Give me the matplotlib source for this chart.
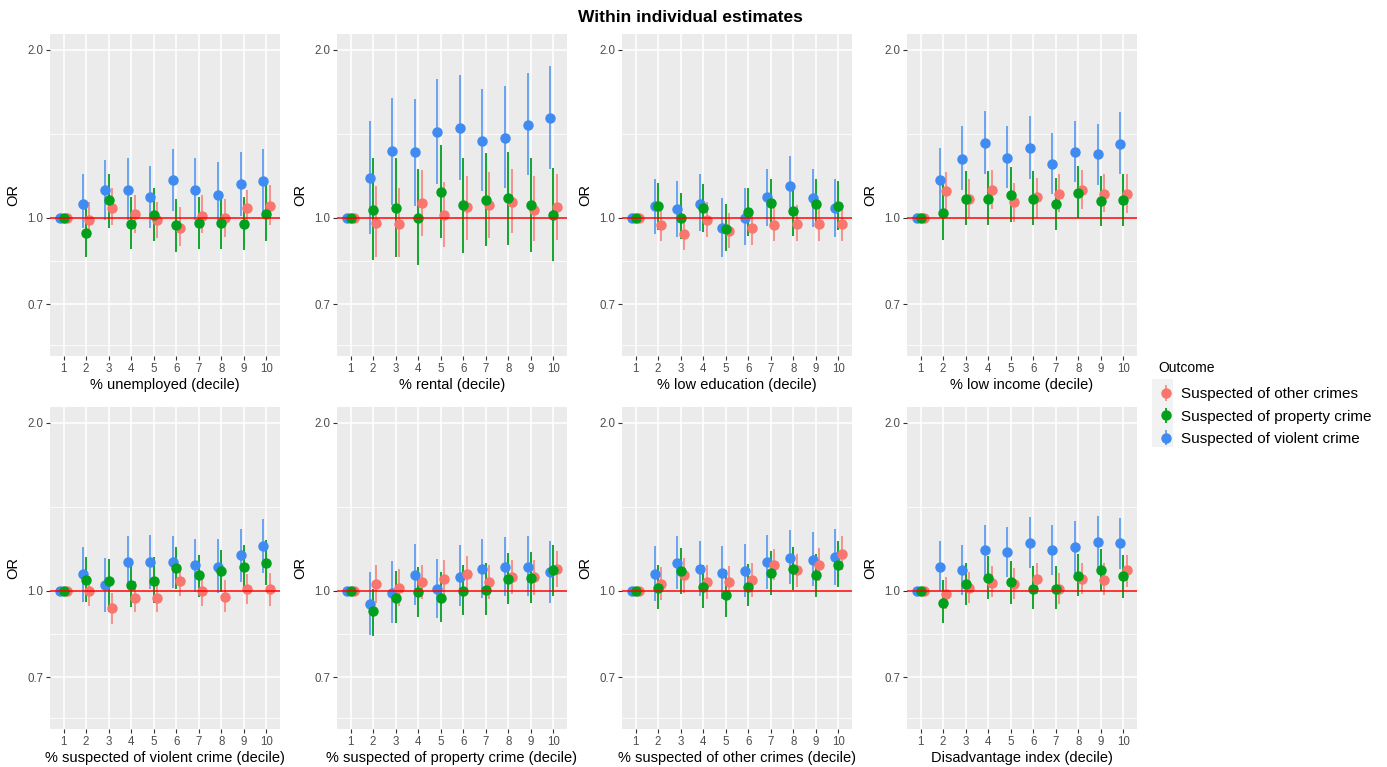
import numpy as np
import matplotlib
matplotlib.use("Agg")
import matplotlib.pyplot as plt
from matplotlib.patches import Rectangle

plt.rcParams['font.family'] = ['Liberation Sans', 'DejaVu Sans']

deciles = [1, 2, 3, 4, 5, 6, 7, 8, 9, 10]
panel_labels = ['% unemployed (decile)', '% rental (decile)', '% low education (decile)',
                '% low income (decile)', '% suspected of violent crime (decile)',
                '% suspected of property crime (decile)', '% suspected of other crimes (decile)',
                'Disadvantage index (decile)']
outcomes = ['Suspected of other crimes', 'Suspected of property crime', 'Suspected of violent crime']

# odds ratios per panel (rows) and decile (columns)
violent_or = [
    [1.0, 1.06, 1.12, 1.12, 1.09, 1.17, 1.12, 1.10, 1.15, 1.165],
    [1.0, 1.18, 1.316, 1.31, 1.425, 1.45, 1.375, 1.39, 1.47, 1.51],
    [1.0, 1.05, 1.038, 1.06, 0.96, 1.0, 1.09, 1.14, 1.086, 1.04],
    [1.0, 1.17, 1.275, 1.362, 1.28, 1.334, 1.25, 1.31, 1.30, 1.358],
    [1.0, 1.071, 1.024, 1.127, 1.127, 1.127, 1.112, 1.104, 1.158, 1.204],
    [1.0, 0.949, 0.993, 1.067, 1.01, 1.059, 1.096, 1.104, 1.104, 1.082],
    [1.0, 1.074, 1.12, 1.096, 1.077, 1.086, 1.127, 1.146, 1.135, 1.151],
    [1.0, 1.104, 1.092, 1.183, 1.175, 1.221, 1.183, 1.199, 1.224, 1.219],
]
violent_lo = [
    [1.0, 0.96, 0.99, 0.99, 0.96, 1.03, 0.99, 0.975, 1.01, 1.02],
    [1.0, 0.936, 1.056, 1.05, 1.15, 1.17, 1.116, 1.13, 1.195, 1.225],
    [1.0, 0.936, 0.926, 0.947, 0.852, 0.894, 0.969, 1.014, 0.964, 0.925],
    [1.0, 1.035, 1.12, 1.2, 1.13, 1.175, 1.105, 1.158, 1.144, 1.2],
    [1.0, 0.956, 0.917, 1.01, 1.01, 1.012, 0.996, 0.993, 1.038, 1.079],
    [1.0, 0.835, 0.876, 0.945, 0.895, 0.94, 0.973, 0.98, 0.98, 0.953],
    [1.0, 0.958, 1.007, 0.98, 0.966, 0.975, 1.01, 1.031, 1.021, 1.024],
    [1.0, 1.0, 0.985, 1.062, 1.059, 1.101, 1.067, 1.079, 1.1, 1.096],
]
violent_hi = [
    [1.0, 1.20, 1.27, 1.28, 1.24, 1.33, 1.28, 1.26, 1.31, 1.33],
    [1.0, 1.49, 1.64, 1.63, 1.775, 1.80, 1.70, 1.72, 1.82, 1.87],
    [1.0, 1.175, 1.166, 1.20, 1.086, 1.13, 1.225, 1.29, 1.225, 1.175],
    [1.0, 1.334, 1.463, 1.556, 1.463, 1.52, 1.42, 1.49, 1.475, 1.548],
    [1.0, 1.20, 1.146, 1.255, 1.262, 1.255, 1.238, 1.238, 1.29, 1.348],
    [1.0, 1.082, 1.132, 1.212, 1.142, 1.207, 1.238, 1.249, 1.255, 1.227],
    [1.0, 1.204, 1.255, 1.227, 1.204, 1.216, 1.262, 1.284, 1.276, 1.293],
    [1.0, 1.227, 1.21, 1.315, 1.302, 1.357, 1.315, 1.333, 1.36, 1.353],
]
property_or = [
    [1.0, 0.94, 1.075, 0.977, 1.014, 0.97, 0.98, 0.978, 0.975, 1.017],
    [1.0, 1.032, 1.04, 1.0, 1.113, 1.053, 1.075, 1.086, 1.053, 1.014],
    [1.0, 1.05, 1.0, 1.04, 0.957, 1.024, 1.064, 1.028, 1.061, 1.052],
    [1.0, 1.022, 1.083, 1.083, 1.098, 1.083, 1.06, 1.108, 1.071, 1.075],
    [1.0, 1.048, 1.042, 1.024, 1.042, 1.10, 1.067, 1.086, 1.104, 1.122],
    [1.0, 0.922, 0.973, 0.996, 0.973, 1.0, 1.006, 1.052, 1.055, 1.089],
    [1.0, 1.014, 1.086, 1.017, 0.982, 1.017, 1.077, 1.096, 1.067, 1.115],
    [1.0, 0.952, 1.028, 1.055, 1.038, 1.01, 1.01, 1.064, 1.092, 1.062],
]
property_lo = [
    [1.0, 0.85, 0.96, 0.88, 0.91, 0.87, 0.88, 0.88, 0.875, 0.91],
    [1.0, 0.84, 0.85, 0.825, 0.92, 0.866, 0.89, 0.896, 0.87, 0.837],
    [1.0, 0.95, 0.917, 0.944, 0.872, 0.93, 0.965, 0.93, 0.964, 0.953],
    [1.0, 0.915, 0.97, 0.97, 0.984, 0.973, 0.95, 1.0, 0.966, 0.966],
    [1.0, 0.956, 0.917, 0.936, 0.953, 1.01, 0.975, 0.996, 1.01, 1.026],
    [1.0, 0.83, 0.876, 0.90, 0.88, 0.904, 0.907, 0.949, 0.953, 0.98],
    [1.0, 0.93, 0.989, 0.934, 0.90, 0.939, 0.985, 1.003, 0.975, 1.017],
    [1.0, 0.876, 0.945, 0.966, 0.949, 0.927, 0.93, 0.978, 1.0, 0.973],
]
property_hi = [
    [1.0, 1.05, 1.20, 1.09, 1.13, 1.08, 1.09, 1.09, 1.09, 1.147],
    [1.0, 1.28, 1.28, 1.225, 1.353, 1.28, 1.305, 1.31, 1.28, 1.23],
    [1.0, 1.155, 1.11, 1.15, 1.06, 1.13, 1.175, 1.135, 1.175, 1.163],
    [1.0, 1.15, 1.215, 1.215, 1.232, 1.215, 1.18, 1.237, 1.19, 1.2],
    [1.0, 1.15, 1.14, 1.127, 1.15, 1.199, 1.162, 1.183, 1.21, 1.232],
    [1.0, 1.01, 1.086, 1.104, 1.082, 1.112, 1.12, 1.17, 1.175, 1.21],
    [1.0, 1.112, 1.194, 1.115, 1.089, 1.116, 1.178, 1.199, 1.167, 1.229],
    [1.0, 1.045, 1.124, 1.154, 1.132, 1.109, 1.109, 1.163, 1.191, 1.162],
]
other_or = [
    [1.0, 0.993, 1.04, 1.017, 0.99, 0.96, 1.01, 1.0, 1.04, 1.05],
    [1.0, 0.98, 0.977, 1.064, 1.014, 1.045, 1.053, 1.07, 1.035, 1.045],
    [1.0, 0.973, 0.937, 0.993, 0.947, 0.96, 0.973, 0.977, 0.977, 0.977],
    [1.0, 1.116, 1.083, 1.124, 1.067, 1.09, 1.104, 1.124, 1.104, 1.105],
    [1.0, 1.0, 0.932, 0.973, 0.973, 1.042, 1.0, 0.975, 1.01, 1.007],
    [1.0, 1.028, 1.014, 1.038, 1.052, 1.074, 1.038, 1.059, 1.059, 1.093],
    [1.0, 1.028, 1.067, 1.038, 1.038, 1.048, 1.115, 1.089, 1.115, 1.167],
    [1.0, 0.989, 1.014, 1.035, 1.028, 1.052, 1.01, 1.052, 1.048, 1.089],
]
other_lo = [
    [1.0, 0.92, 0.97, 0.94, 0.92, 0.89, 0.94, 0.925, 0.96, 0.97],
    [1.0, 0.85, 0.85, 0.93, 0.886, 0.915, 0.92, 0.94, 0.91, 0.915],
    [1.0, 0.91, 0.876, 0.923, 0.884, 0.896, 0.908, 0.908, 0.908, 0.908],
    [1.0, 1.032, 1.0, 1.039, 0.984, 1.0, 1.024, 1.039, 1.024, 1.02],
    [1.0, 0.94, 0.874, 0.917, 0.917, 0.98, 0.94, 0.917, 0.949, 0.94],
    [1.0, 0.953, 0.94, 0.969, 0.982, 1.0, 0.966, 0.986, 0.985, 1.017],
    [1.0, 0.962, 0.993, 0.969, 0.971, 0.975, 1.045, 1.017, 1.042, 1.089],
    [1.0, 0.93, 0.953, 0.975, 0.966, 0.986, 0.949, 0.989, 0.985, 1.017],
]
other_hi = [
    [1.0, 1.07, 1.13, 1.10, 1.07, 1.045, 1.10, 1.08, 1.12, 1.145],
    [1.0, 1.14, 1.13, 1.22, 1.16, 1.19, 1.21, 1.225, 1.19, 1.20],
    [1.0, 1.045, 1.01, 1.07, 1.022, 1.035, 1.045, 1.056, 1.05, 1.05],
    [1.0, 1.208, 1.175, 1.22, 1.155, 1.18, 1.2, 1.22, 1.2, 1.2],
    [1.0, 1.06, 0.99, 1.04, 1.04, 1.115, 1.067, 1.045, 1.074, 1.077],
    [1.0, 1.112, 1.096, 1.115, 1.138, 1.155, 1.115, 1.138, 1.138, 1.178],
    [1.0, 1.104, 1.146, 1.112, 1.109, 1.12, 1.191, 1.167, 1.194, 1.255],
    [1.0, 1.059, 1.082, 1.107, 1.1, 1.122, 1.077, 1.122, 1.12, 1.162],
]

col_other = '#F8766D'
col_property = '#00A01C'
col_violent = '#3F8BF2'

W, H = 1387, 767
fig = plt.figure(figsize=(W / 100, H / 100), dpi=100)

lefts = [50, 337, 622, 907]
tops = [34, 407]
pw, ph = 230, 322

# drawing order: violent (left), other (right), property (centre, on top)
series = [
    (violent_or, violent_lo, violent_hi, col_violent, -0.15, 0.8),
    (other_or, other_lo, other_hi, col_other, 0.15, 0.8),
    (property_or, property_lo, property_hi, col_property, 0.0, 1.0),
]

x = np.array(deciles)
handles = {}
for p in range(8):
    r, c = divmod(p, 4)
    ax = fig.add_axes([lefts[c] / W, 1 - (tops[r] + ph) / H, pw / W, ph / H])
    ax.set_facecolor('#EBEBEB')
    for s in ax.spines.values():
        s.set_visible(False)
    ax.set_yscale('log')
    ax.set_xlim(0.4, 10.6)
    ax.set_ylim(0.566, 2.135)
    ax.set_xticks(deciles)
    ax.set_xticklabels([str(d) for d in deciles])
    ax.set_yticks([0.7, 1.0, 2.0])
    ax.set_yticklabels(['0.7', '1.0', '2.0'])
    ax.set_yticks([np.sqrt(0.35), np.sqrt(0.7), np.sqrt(2.0)], minor=True)
    ax.yaxis.set_minor_formatter(plt.NullFormatter())
    ax.tick_params(which='major', length=3, width=0.8, color='#333333',
                   labelcolor='#4D4D4D', labelsize=8.3, pad=2)
    ax.tick_params(which='minor', length=0)
    ax.grid(True, which='major', color='white', lw=1.1)
    ax.grid(True, which='minor', axis='y', color='white', lw=0.55)
    ax.set_axisbelow(True)

    for est, lo, hi, col, off, a in series:
        e = np.array(est[p]); l = np.array(lo[p]); h = np.array(hi[p])
        eb = ax.errorbar(x + off, e, yerr=[e - l, h - e], fmt='o', color=col,
                         ms=6.5, elinewidth=1.3, capsize=0, zorder=3)
        eb[2][0].set_alpha(a)
        handles[col] = eb

    ax.axhline(1.0, color='#FF0000', lw=1.1, zorder=4)
    ax.set_xlabel(panel_labels[p], fontsize=10.5, color='black', labelpad=2)
    ax.set_ylabel('OR', fontsize=10.5, color='black', labelpad=5)

fig.text(690 / W, 1 - 18 / H, 'Within individual estimates', ha='center', va='center',
         fontsize=12.5, fontweight='bold')

fig.patches.append(Rectangle((1152 / W, 1 - 447 / H), 21 / W, 68 / H,
                             transform=fig.transFigure, facecolor='#F2F2F2',
                             edgecolor='none', zorder=0))
leg = fig.legend([handles[col_other], handles[col_property], handles[col_violent]], outcomes,
                 title='Outcome', loc='upper left', bbox_to_anchor=(1145 / W, 1 - 347 / H),
                 frameon=False, fontsize=11, title_fontsize=10, handlelength=1.0,
                 handletextpad=0.45, labelspacing=0.55, alignment='left')
leg._legend_box.sep = 9

fig.savefig('out.png', dpi=100)
